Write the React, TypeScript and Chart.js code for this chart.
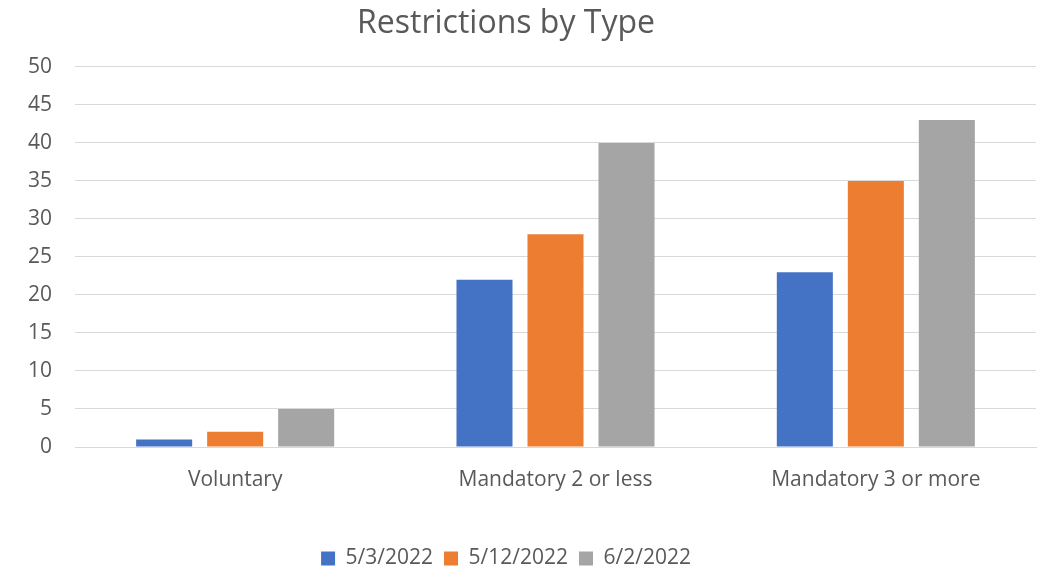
import React, { useEffect, useRef } from "react";
import { Chart, registerables } from "chart.js";

Chart.register(...registerables);

const categories = ["Voluntary", "Mandatory 2 or less", "Mandatory 3 or more"];
const seriesLabels = ["5/3/2022", "5/12/2022", "6/2/2022"];
const values0503 = [1, 22, 23];
const values0512 = [2, 28, 35];
const values0602 = [5, 40, 43];
const colors = ["#4472C4", "#ED7D31", "#A5A5A5"];

export default function App() {
  const ref = useRef<HTMLCanvasElement | null>(null);
  useEffect(() => {
    if (!ref.current) return;
    const font = "'Open Sans', 'Liberation Sans', sans-serif";
    const chart = new Chart(ref.current, {
      type: "bar",
      data: {
        labels: categories,
        datasets: [values0503, values0512, values0602].map((d, i) => ({
          label: seriesLabels[i],
          data: d,
          backgroundColor: colors[i],
          categoryPercentage: 0.665,
          barPercentage: 0.789,
        })),
      },
      options: {
        animation: false,
        responsive: false,
        maintainAspectRatio: false,
        layout: { padding: { left: -24, right: 12, top: 0, bottom: -11 } },
        plugins: {
          title: {
            display: true,
            text: "Restrictions by Type",
            color: "#595959",
            font: { family: font, size: 32, weight: "normal" },
            padding: { top: 5, bottom: 23.5 },
          },
          legend: {
            position: "bottom",
            labels: {
              color: "#595959",
              font: { family: font, size: 21 },
              boxWidth: 14,
              boxHeight: 14,
              padding: 11,
            },
          },
          tooltip: { enabled: false },
        },
        scales: {
          x: {
            grid: { display: false },
            border: { color: "#d9d9d9" },
            ticks: {
              color: "#595959",
              font: { family: font, size: 21 },
              padding: 12,
            },
            afterFit: (s: any) => {
              s.height = 90;
            },
          },
          y: {
            min: 0,
            max: 50,
            ticks: {
              stepSize: 5,
              color: "#595959",
              font: { family: font, size: 21 },
              padding: 23,
            },
            grid: { color: "#d9d9d9", drawTicks: false },
            border: { display: false },
            afterFit: (s: any) => {
              s.width = 99;
            },
          },
        },
      },
    });
    return () => chart.destroy();
  }, []);
  return (
    <div style={{ position: "fixed", left: 0, top: 0, width: 1048, height: 568, background: "#fff" }}>
      <canvas ref={ref} width={1048} height={568} />
    </div>
  );
}
